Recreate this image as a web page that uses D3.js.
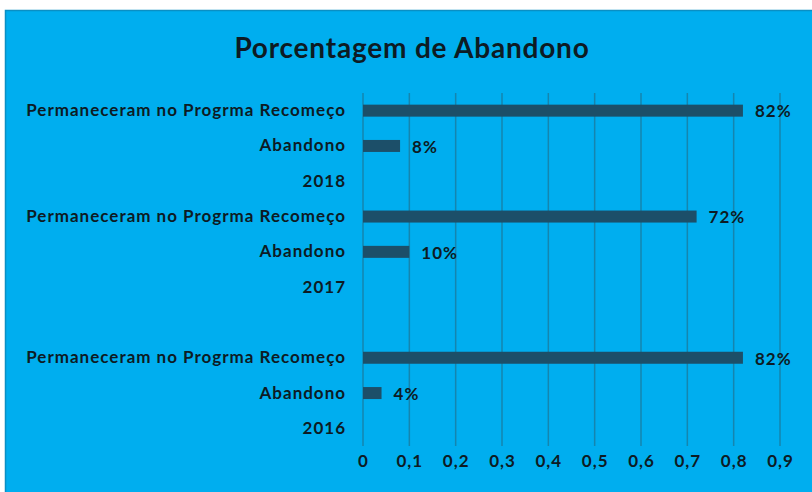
<!DOCTYPE html>
<html><head><meta charset="utf-8">
<script src="https://cdn.jsdelivr.net/npm/d3@7"></script>
<style>html,body{margin:0;padding:0;background:#fff;}svg{display:block;}</style>
</head><body>
<script>
const title = "Porcentagem de Abandono";
const categories = ["Permaneceram no Progrma Recomeço","Abandono","2018","Permaneceram no Progrma Recomeço","Abandono","2017","","Permaneceram no Progrma Recomeço","Abandono","2016"];
const values = [0.82, 0.08, null, 0.72, 0.10, null, null, 0.82, 0.04, null];
const valueLabels = ["82%","8%","","72%","10%","","","82%","4%",""];
const xTicks = [0,0.1,0.2,0.3,0.4,0.5,0.6,0.7,0.8,0.9];

const W = 812, H = 492;
const font = "Lato, 'Open Sans', sans-serif";
const svg = d3.select("body").append("svg").attr("width", W).attr("height", H);

svg.append("rect").attr("x",5.5).attr("y",10.5).attr("width",W).attr("height",H)
  .attr("fill","#00AEEF").attr("stroke","#0A8FC4").attr("stroke-width",1.5);

svg.append("text").attr("x",412).attr("y",58).attr("text-anchor","middle")
  .attr("font-family",font).attr("font-weight","bold").attr("font-size",28)
  .attr("letter-spacing",0.8).attr("fill","#0d1b24").text(title);

const keys = categories.map((c,i)=>i);
const x = d3.scaleLinear().domain([0,0.9]).range([363,780]);
const y = d3.scaleBand().domain(keys).range([93,446]);

function styleText(sel){
  sel.attr("font-family",font).attr("font-weight","bold").attr("font-size",17)
    .attr("letter-spacing",1).attr("fill","#0d1b24");
}

// gridlines
svg.append("g").selectAll("line").data(xTicks).join("line")
  .attr("x1",d=>x(d)).attr("x2",d=>x(d)).attr("y1",93).attr("y2",446)
  .attr("stroke","#1585AE").attr("stroke-width",1.5);

// axis tick labels
const xAxis = d3.axisBottom(x).tickValues(xTicks).tickSize(0).tickPadding(0)
  .tickFormat(d => d3.format("")(+d.toFixed(1)).replace(".",","));
const gx = svg.append("g").attr("transform","translate(0,455)").call(xAxis);
gx.select(".domain").remove();
gx.selectAll("text").call(styleText).attr("dy","0.71em");

// category labels
const yAxis = d3.axisLeft(y).tickSize(0).tickPadding(0).tickFormat(i=>categories[i]);
const gy = svg.append("g").attr("transform","translate(346,0)").call(yAxis);
gy.select(".domain").remove();
gy.selectAll("text").call(styleText);

// bars
const data = keys.filter(i=>values[i]!=null);
const bh = 12;
svg.append("g").selectAll("rect").data(data).join("rect")
  .attr("x",x(0)).attr("y",i=>y(i)+y.bandwidth()/2-bh/2)
  .attr("width",i=>x(values[i])-x(0)).attr("height",bh).attr("fill","#1C4F69");

svg.append("g").selectAll("text").data(data).join("text")
  .attr("x",i=>x(values[i])+12).attr("y",i=>y(i)+y.bandwidth()/2).attr("dy","0.4em")
  .call(styleText)
  .text(i=>valueLabels[i]);
</script>
</body></html>
